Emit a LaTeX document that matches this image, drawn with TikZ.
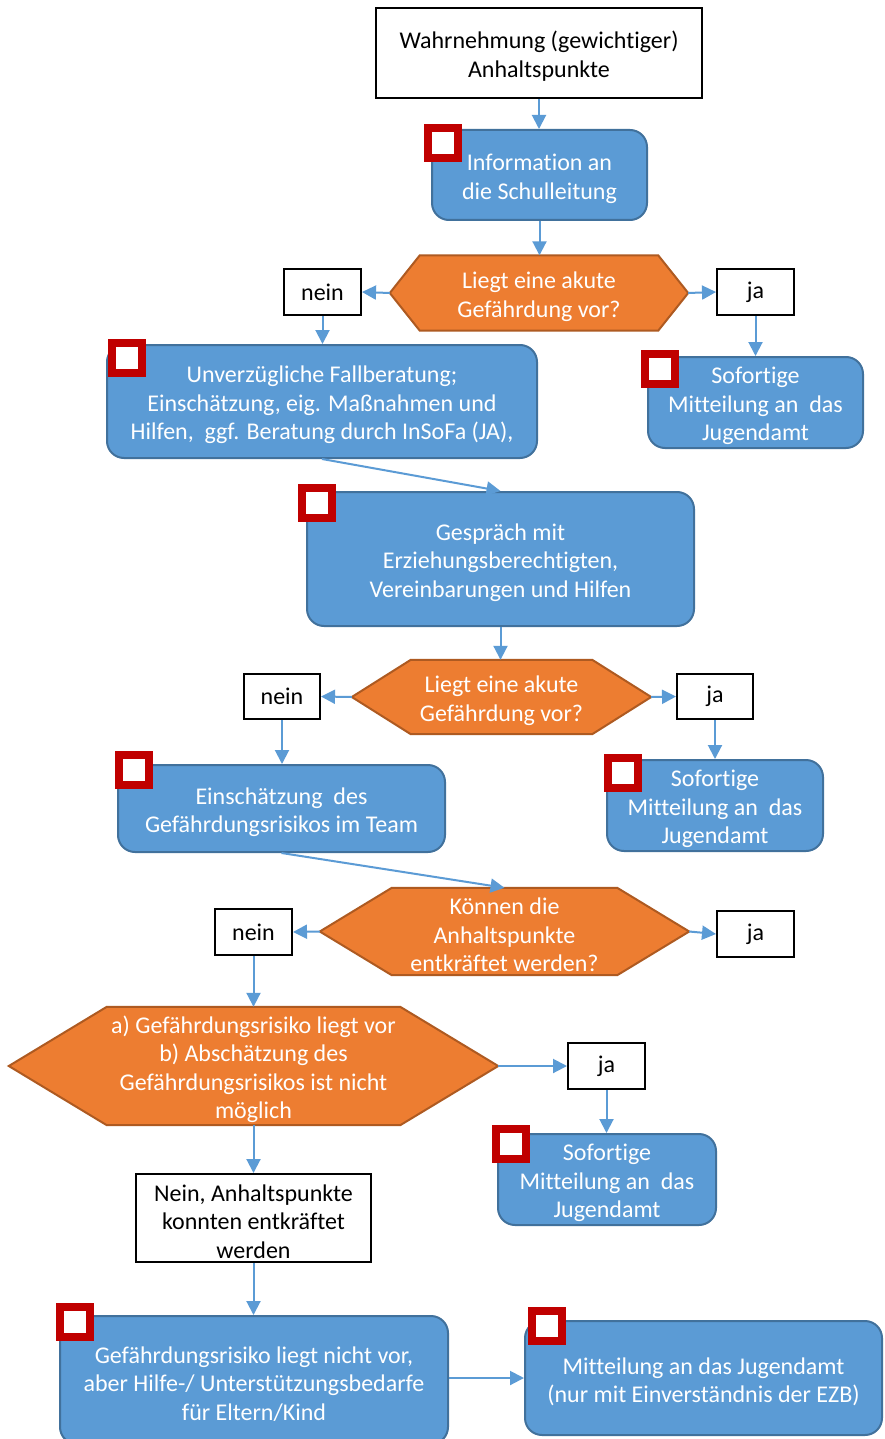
\documentclass[tikz,border=0pt]{standalone}
\usepackage{fontspec}
\setmainfont{Carlito}[Ligatures=NoCommon]
\usetikzlibrary{arrows.meta,backgrounds,calc}
\definecolor{boxblue}{HTML}{5B9BD5}
\definecolor{boxedge}{HTML}{41719C}
\definecolor{decfill}{HTML}{ED7D31}
\definecolor{decedge}{HTML}{AE5A21}
\definecolor{marker}{HTML}{C00000}

% strut that sets the first line of a multi-line label a little lower
\newcommand\firstline{\rule{0pt}{24pt}}

\tikzset{
  txt/.style={font=\fontsize{24}{28.5}\selectfont, align=center, inner sep=0pt},
  plain/.style={txt, rectangle, draw=black, line width=2, fill=white},
  task/.style={txt, rectangle, rounded corners=17, draw=boxedge, line width=2, fill=boxblue, text=white},
  decision/.style={txt, rectangle, text=white},
  tick/.style={rectangle, draw=marker, fill=white, line width=8, minimum size=30, inner sep=0pt},
  flow/.style={draw=boxblue, line width=2, -{Triangle[length=14,width=14]}},
  hexa/.style={fill=decfill, draw=decedge, line width=2, line join=miter},
}

% hexagonal decision outline around a node: #1 node name, #2 horizontal slant
\newcommand\hexoutline[2]{%
  \begin{pgfonlayer}{background}
    \draw[hexa] (#1.west) -- ([xshift=#2]#1.north west) -- ([xshift=-#2]#1.north east)
      -- (#1.east) -- ([xshift=-#2]#1.south east) -- ([xshift=#2]#1.south west) -- cycle;
  \end{pgfonlayer}}

\begin{document}
\begin{tikzpicture}[x=1pt,y=-1pt]
\begin{pgfonlayer}{background}
  \fill[white] (0,0) rectangle (884,1439);
\end{pgfonlayer}
\useasboundingbox (0,0) rectangle (884,1439);

% --- nodes ---
\node[plain, minimum width=326, minimum height=90] (top) at (539,53) {\firstline Wahrnehmung (gewichtiger)\\Anhaltspunkte};
\node[task, minimum width=215, minimum height=90] (info) at (539.5,175) {\firstline Information an\\die Schulleitung};

\node[decision, minimum width=298, minimum height=75] (q1) at (539,293) {\firstline Liegt eine akute\\Gefährdung vor?};
\hexoutline{q1}{30}
\node[plain, minimum width=77, minimum height=46] (no1) at (322.5,292) {nein};
\node[plain, minimum width=77, minimum height=46] (yes1) at (755.5,292) {ja};

\node[task, minimum width=430, minimum height=113] (case) at (322,401.5) {\firstline Unverzügliche Fallberatung;\\Einschätzung, eig. Maßnahmen und\\Hilfen, \ ggf. Beratung durch InSoFa (JA),};
\node[task, minimum width=215, minimum height=91] (report1) at (755.5,402.5) {\firstline Sofortige\\Mitteilung an \ das\\Jugendamt};

\node[task, minimum width=387, minimum height=134] (talk) at (500.5,559) {\firstline Gespräch mit\\Erziehungsberechtigten,\\Vereinbarungen und Hilfen};

\node[decision, minimum width=299, minimum height=74] (q2) at (501.5,697) {\firstline Liegt eine akute\\Gefährdung vor?};
\hexoutline{q2}{59}
\node[plain, minimum width=76, minimum height=45] (no2) at (282,696.5) {nein};
\node[plain, minimum width=76, minimum height=45] (yes2) at (715,696.5) {ja};

\node[task, minimum width=327, minimum height=87] (team) at (281.5,808.5) {\firstline Einschätzung \ des\\Gefährdungsrisikos im Team};
\node[task, minimum width=216, minimum height=91] (report2) at (715,805.5) {\firstline Sofortige\\Mitteilung an \ das\\Jugendamt};

\node[decision, minimum width=369, minimum height=87] (q3) at (504.5,931.5) {\firstline Können die\\Anhaltspunkte\\entkräftet werden?};
\hexoutline{q3}{72}
\node[plain, minimum width=77, minimum height=46] (no3) at (253.5,932) {nein};
\node[plain, minimum width=77, minimum height=46] (yes3) at (755.5,934) {ja};

\node[decision, minimum width=489, minimum height=118] (q4) at (253.5,1066) {\firstline a) Gefährdungsrisiko liegt vor\\b) Abschätzung des\\Gefährdungsrisikos ist nicht\\möglich};
\hexoutline{q4}{98}
\node[plain, minimum width=77, minimum height=46] (yes4) at (606.5,1066) {ja};
\node[task, minimum width=218, minimum height=91] (report3) at (607,1179.5) {\firstline Sofortige\\Mitteilung an \ das\\Jugendamt};

\node[plain, minimum width=235, minimum height=88] (cleared) at (253.5,1218) {\firstline Nein, Anhaltspunkte\\konnten entkräftet\\werden};

\node[task, minimum width=388, minimum height=128] (support) at (254,1380) {\firstline Gefährdungsrisiko liegt nicht vor,\\aber Hilfe-/ Unterstützungsbedarfe\\für Eltern/Kind};
\node[task, minimum width=357, minimum height=114] (notify) at (703.5,1378) {\firstline Mitteilung an das Jugendamt\\(nur mit Einverständnis der EZB)};

% --- check boxes ---
\node[tick] (t1) at (443,143) {};
\node[tick] (t2) at (126.5,358) {};
\node[tick] (t3) at (659.5,369) {};
\node[tick] (t4) at (317,503) {};
\node[tick] (t5) at (134,770) {};
\node[tick] (t6) at (622.5,773) {};
\node[tick] (t7) at (510.5,1144) {};
\node[tick] (t8) at (75,1322) {};
\node[tick] (t9) at (547,1326) {};

% --- connectors ---
\draw[flow] (top.south) -- (top.south |- info.north);
\draw[flow] (info.south) -- (info.south |- q1.north);
\draw[flow] (q1.west) -- (no1.east);
\draw[flow] (q1.east) -- (yes1.west);
\draw[flow] (no1.south) -- (no1.south |- case.north);
\draw[flow] (yes1.south) -- (yes1.south |- report1.north);
\draw[flow] (case.south) -- (talk.north);
\draw[flow] (talk.south) -- (talk.south |- q2.north);
\draw[flow] (q2.west) -- (no2.east);
\draw[flow] (q2.east) -- (yes2.west);
\draw[flow] (no2.south) -- (no2.south |- team.north);
\draw[flow] (yes2.south) -- (yes2.south |- report2.north);
\draw[flow] (team.south) -- (q3.north);
\draw[flow] (q3.west) -- (no3.east);
\draw[flow] (q3.east) -- (yes3.west);
\draw[flow] (no3.south) -- (no3.south |- q4.north);
\draw[flow] (q4.east) -- (yes4.west);
\draw[flow] (yes4.south) -- (yes4.south |- report3.north);
\draw[flow] (q4.south) -- (q4.south |- cleared.north);
\draw[flow] (cleared.south) -- (cleared.south |- support.north);
\draw[flow] (support.east |- notify.west) -- (notify.west);
\end{tikzpicture}
\end{document}
